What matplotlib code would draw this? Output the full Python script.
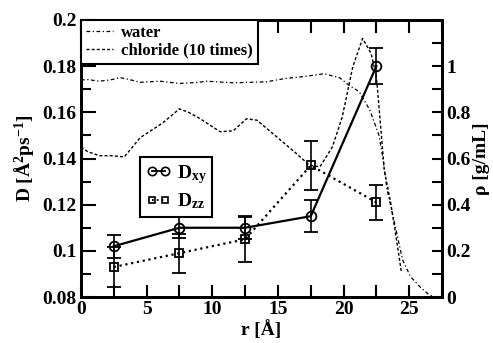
import matplotlib
matplotlib.use("Agg")
import matplotlib.pyplot as plt
from matplotlib.lines import Line2D
from matplotlib.ticker import MultipleLocator, FixedLocator, FormatStrFormatter

plt.rcParams["font.family"] = "Liberation Serif"
plt.rcParams["font.weight"] = "bold"
plt.rcParams["mathtext.fontset"] = "custom"
plt.rcParams["mathtext.rm"] = "Liberation Serif:bold"
plt.rcParams["mathtext.bf"] = "Liberation Serif:bold"
plt.rcParams["mathtext.it"] = "Liberation Serif:bold"

# diffusion coefficients per radial shell
r_shell = [2.5, 7.5, 12.5, 17.5, 22.5]
d_xy = [0.102, 0.110, 0.110, 0.115, 0.180]
d_xy_err = [0.005, 0.0045, 0.0047, 0.007, 0.0077]
d_zz = [0.093, 0.099, 0.105, 0.137, 0.121]
d_zz_err = [0.0085, 0.0085, 0.010, 0.0105, 0.0077]

# density profiles
r_water = [0.0, 0.5, 1.4, 2.2, 3.0, 3.7, 4.5, 6.0, 7.5, 9.0, 9.5, 11.6, 14.1,
           15.6, 17.0, 18.5, 19.7, 20.4, 21.2, 22.0, 22.7, 23.0, 23.3, 24.0,
           24.5, 25.1, 25.8, 26.5, 27.0]
rho_water = [0.94, 0.942, 0.935, 0.94, 0.95, 0.942, 0.93, 0.935, 0.925, 0.93,
             0.935, 0.928, 0.932, 0.947, 0.955, 0.967, 0.95, 0.918, 0.889,
             0.81, 0.70, 0.60, 0.47, 0.29, 0.16, 0.088, 0.045, 0.01, 0.0]
r_cl = [0.0, 0.5, 1.4, 2.3, 3.3, 4.5, 6.2, 7.5, 8.2, 9.0, 10.6, 11.6, 12.6,
        13.4, 14.9, 16.4, 17.4, 18.2, 19.15, 19.9, 20.7, 21.45, 22.1, 22.5,
        22.7, 23.0, 23.1, 23.6, 24.0, 24.4]
rho_cl = [0.65, 0.63, 0.612, 0.612, 0.607, 0.69, 0.753, 0.815, 0.80, 0.775,
          0.716, 0.72, 0.772, 0.766, 0.694, 0.622, 0.571, 0.564, 0.65, 0.78,
          0.997, 1.12, 1.055, 0.954, 0.824, 0.62, 0.55, 0.405, 0.26, 0.11]
rho_ticks = [0, 0.2, 0.4, 0.6, 0.8, 1.0]

fig = plt.figure(figsize=(4.93, 3.43), dpi=100)
ax = fig.add_axes([0.1643, 0.1341, 0.7323, 0.8076])
ax2 = ax.twinx()

ax.errorbar(r_shell, d_xy, yerr=d_xy_err, color="black", lw=1.6, ls="-",
            marker="o", ms=7, mfc="none", mec="black", mew=1.3,
            capsize=5, elinewidth=1.2, capthick=1.2, zorder=3)
ax.errorbar(r_shell, d_zz, yerr=d_zz_err, color="black", lw=1.6, ls=":",
            marker="s", ms=6, mfc="none", mec="black", mew=1.3,
            capsize=5, elinewidth=1.2, capthick=1.2, zorder=3)

water, = ax2.plot(r_water, rho_water, color="black", lw=0.9, ls=(0, (3, 2, 1, 2)))
chloride, = ax2.plot(r_cl, rho_cl, color="black", lw=1.0, ls=(0, (2.2, 1.5)))

ax.set_xlim(0, 27.5)
ax.set_ylim(0.08, 0.2)
ax2.set_ylim(0, 1.2)

ax.xaxis.set_major_locator(MultipleLocator(5))
ax.xaxis.set_minor_locator(MultipleLocator(2.5))
ax.yaxis.set_major_locator(MultipleLocator(0.02))
ax.yaxis.set_minor_locator(MultipleLocator(0.01))
ax.yaxis.set_major_formatter(FormatStrFormatter("%g"))
ax2.yaxis.set_major_locator(FixedLocator(rho_ticks))
ax2.yaxis.set_minor_locator(MultipleLocator(0.1))
ax2.yaxis.set_major_formatter(FormatStrFormatter("%g"))

ax.tick_params(axis="x", which="both", direction="in", top=True, length=9,
               width=1.5, labelsize=14, pad=3)
ax.tick_params(axis="y", which="major", direction="in", length=11, width=1.5,
               labelsize=14, pad=3)
ax.tick_params(axis="y", which="minor", direction="in", length=7, width=1.5)
ax2.tick_params(axis="y", which="both", direction="in", length=7, width=1.5,
                labelsize=14, pad=3)
for a in (ax, ax2):
    for sp in a.spines.values():
        sp.set_linewidth(2)

ax.set_xlabel("r [Å]", fontsize=14, fontweight="bold", labelpad=1)
ax.set_ylabel(r"D [Å$^{2}$ps$^{-1}$]", fontsize=14, fontweight="bold", labelpad=4)
ax2.set_ylabel("ρ [g/mL]", fontsize=14, fontweight="bold", labelpad=2)

leg1 = ax2.legend([water, chloride], ["water", "chloride (10 times)"],
                  loc="upper left", bbox_to_anchor=(0, 1), borderaxespad=0,
                  fancybox=False, framealpha=1, edgecolor="black",
                  prop={"size": 12, "weight": "bold"}, handlelength=1.6,
                  handletextpad=0.5, borderpad=0.3, labelspacing=0.1)
leg1.get_frame().set_linewidth(1.5)

h_xy = Line2D([], [], color="black", lw=1.3, ls="-", marker="o", ms=6,
              mfc="none", mew=1.2)
h_zz = Line2D([], [], color="black", lw=1.3, ls=":", marker="s", ms=5,
              mfc="none", mew=1.2)
leg2 = ax2.legend([h_xy, h_zz], [r"D$_{xy}$", r"D$_{zz}$"], numpoints=2,
                  loc="upper left", bbox_to_anchor=(0.163, 0.505),
                  borderaxespad=0, fancybox=False, framealpha=1,
                  edgecolor="black", prop={"size": 14, "weight": "bold"},
                  handlelength=1.3, handletextpad=0.3, borderpad=0.3,
                  labelspacing=0.3)
leg2.get_frame().set_linewidth(1.5)
ax2.add_artist(leg1)

fig.savefig("out.png", dpi=100)
